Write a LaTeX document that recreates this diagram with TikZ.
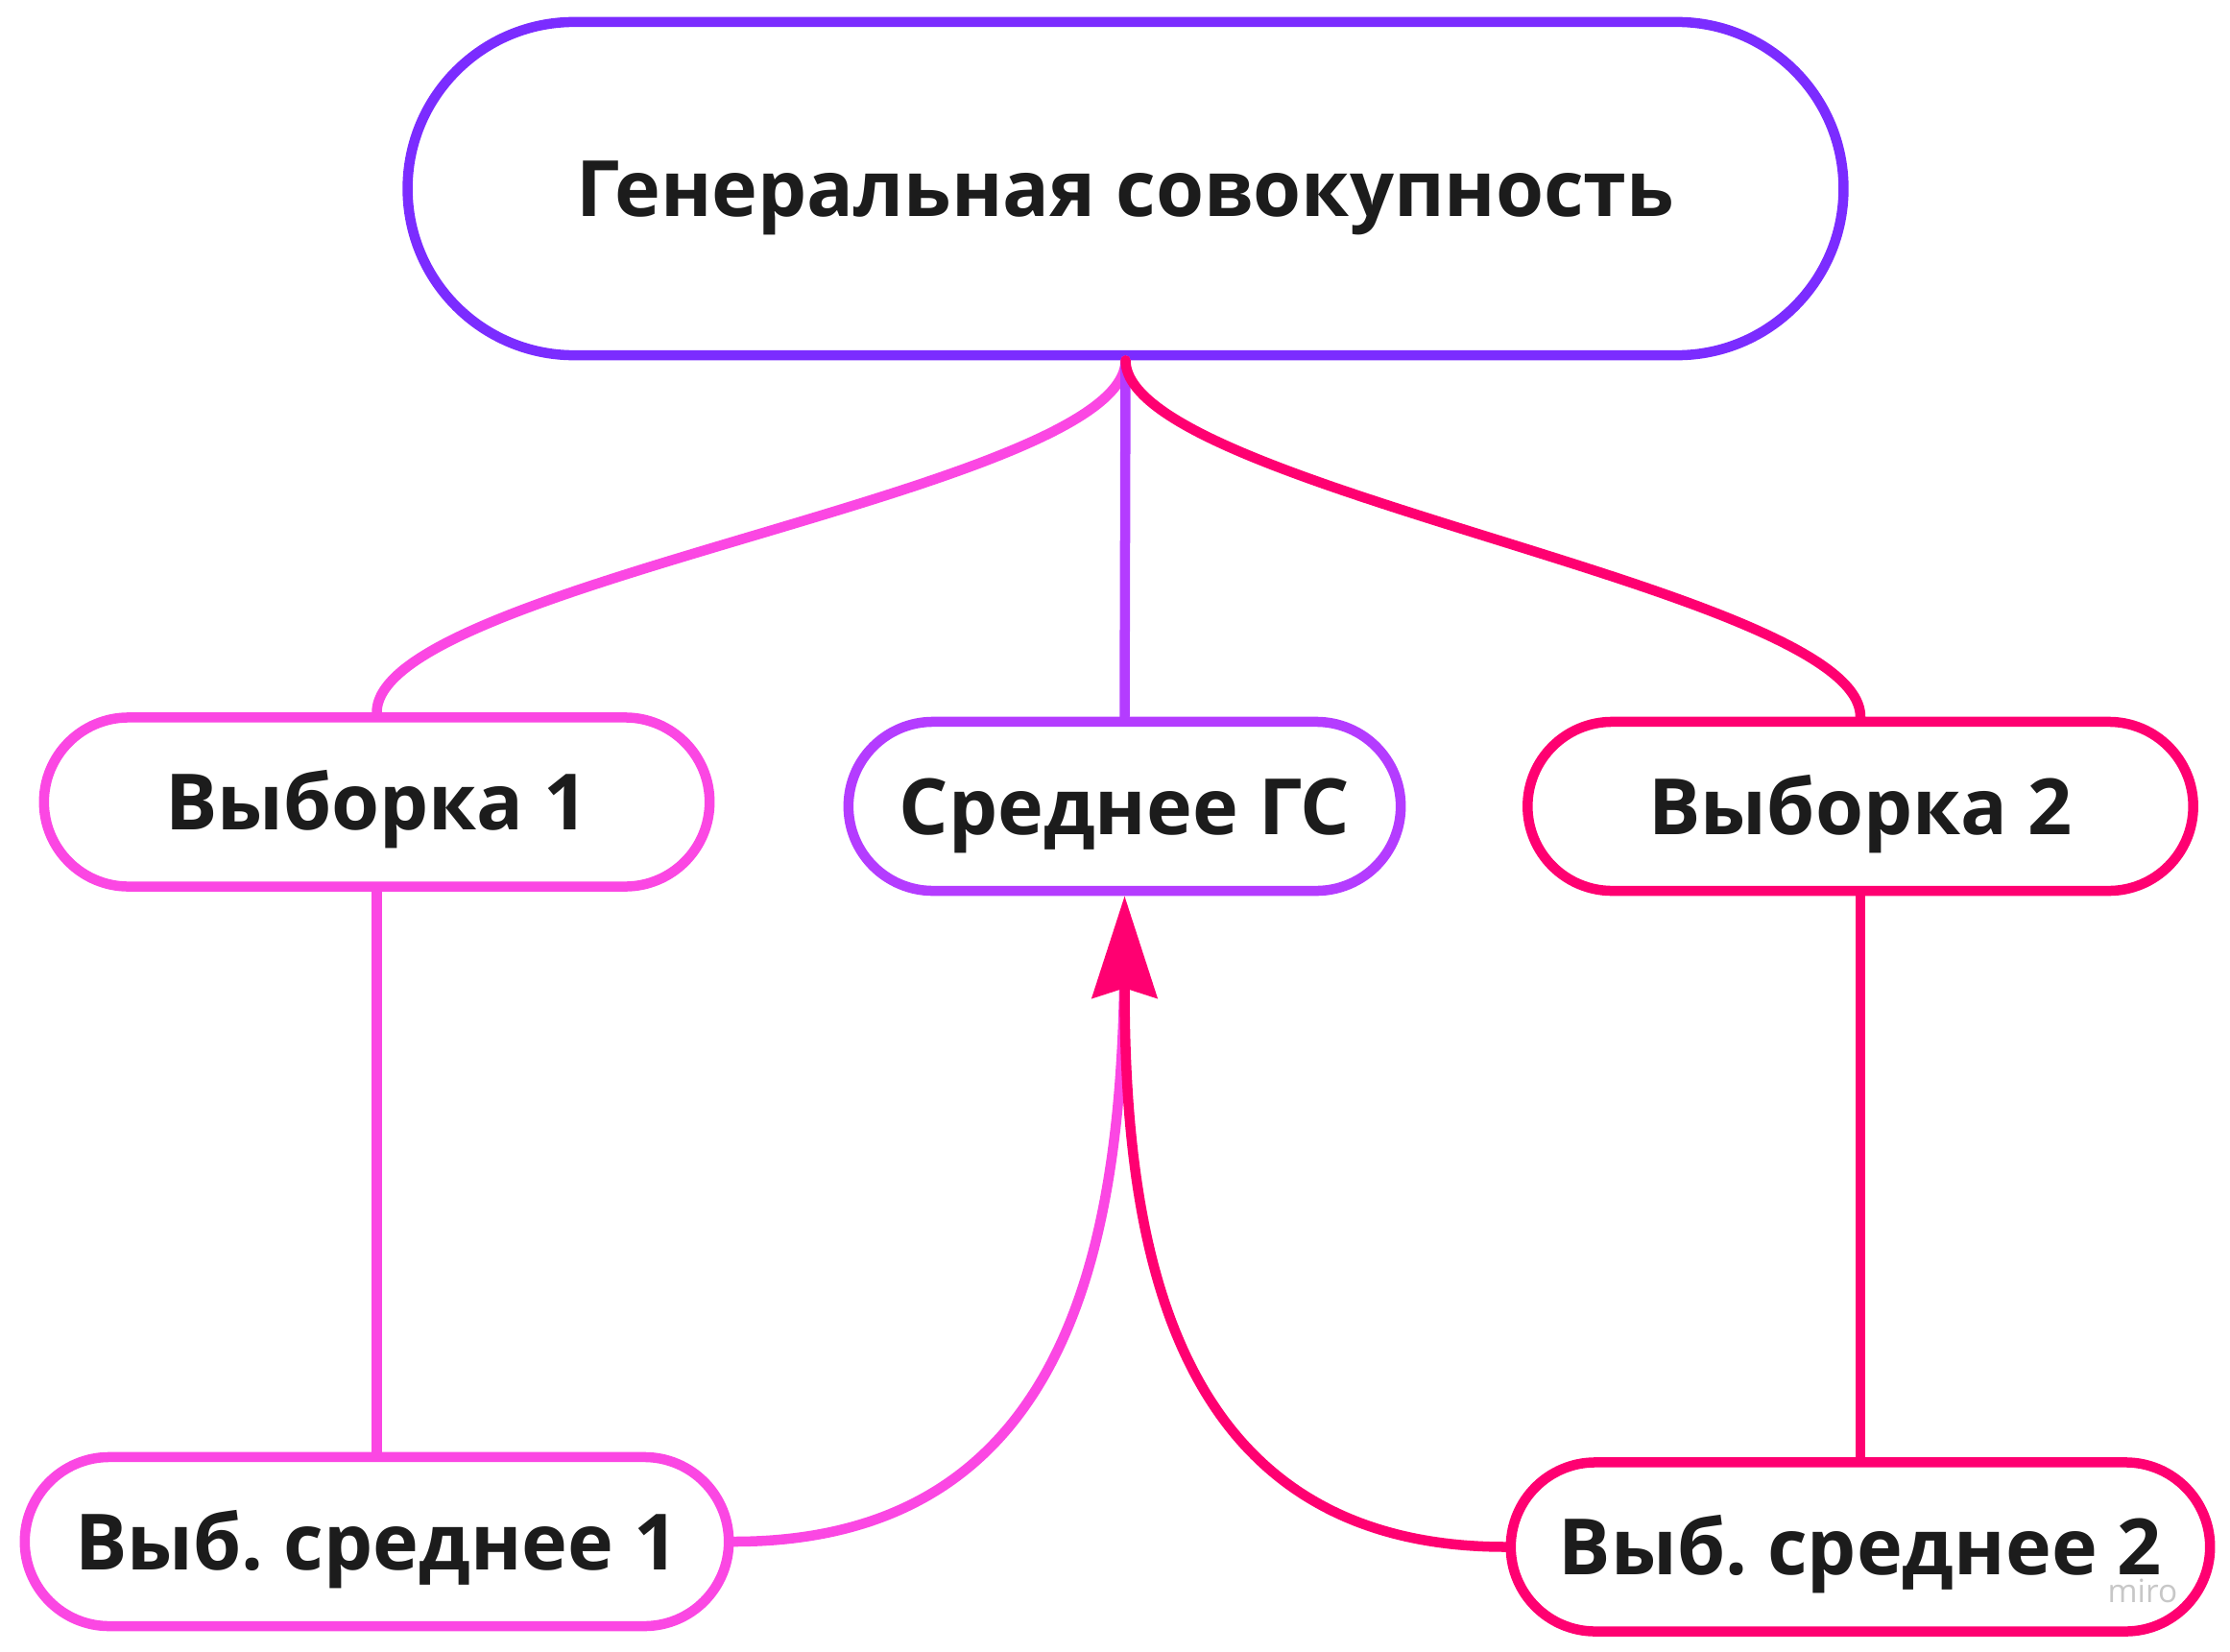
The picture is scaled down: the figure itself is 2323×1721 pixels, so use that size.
\documentclass[tikz,border=0pt]{standalone}
\usepackage{fontspec}
\setmainfont{Open Sans}
\frenchspacing
\usetikzlibrary{shapes.misc,arrows.meta}
\definecolor{gs edge}{HTML}{7B2CFF}
\definecolor{sample pink}{HTML}{FB47E3}
\definecolor{mean purple}{HTML}{B43CFF}
\definecolor{sample red}{HTML}{FF0071}
\definecolor{label text}{HTML}{1C1C1C}
\tikzset{box/.style={rounded rectangle, draw, line width=0.105cm, fill=white,
        inner sep=0pt, minimum height=1.76cm, minimum width=6.93cm,
        text height=0.58cm, text depth=0pt, text=label text,
        font=\fontsize{23}{23}\selectfont\bfseries},
    link/.style={line width=0.105cm, line cap=round},
    tip/.style={-{Stealth[length=1.06cm, width=0.67cm, inset=0.1cm]}}}

\begin{document}
\begin{tikzpicture}[x=0.01cm, y=-0.01cm]
    \useasboundingbox (0,0) rectangle (2323,1721);
    \node[box, draw=gs edge, minimum width=14.95cm, minimum height=3.47cm] (gs) at (1172.5,196.5) {Генеральная совокупность};
    \node[box, draw=sample pink] (sample1) at (392.5,835.5) {Выборка 1};
    \node[box, draw=mean purple, minimum width=5.75cm] (gsmean) at (1171.5,840) {Среднее ГС};
    \node[box, draw=sample red] (sample2) at (1938,840) {Выборка 2};
    \node[box, draw=sample pink, minimum width=7.33cm] (smean1) at (392.5,1606) {Выб. среднее 1};
    \node[box, draw=sample red, minimum width=7.28cm] (smean2) at (1938,1611.5) {Выб. среднее 2};

    \draw[link, sample pink] (gs.south) to[out=-90, in=90, looseness=0.4] (sample1.north);
    \draw[link, mean purple] (gs.south) -- (gsmean.north);
    \draw[link, sample red] (gs.south) to[out=-90, in=90, looseness=0.4] (sample2.north);
    \draw[link, sample pink] (sample1.south) -- (smean1.north);
    \draw[link, sample red] (sample2.south) -- (smean2.north);
    \draw[link, sample pink, shorten >=0.5cm] (smean1.east) to[out=0, in=-90, looseness=1.15] (gsmean.south);
    \draw[link, tip, sample red] (smean2.west) to[out=180, in=-90, looseness=1.15] (gsmean.south);

    \node[text=black!22, font=\fontsize{9.5}{9.5}\selectfont] (miro) at (2232,1657) {miro};
\end{tikzpicture}
\end{document}
